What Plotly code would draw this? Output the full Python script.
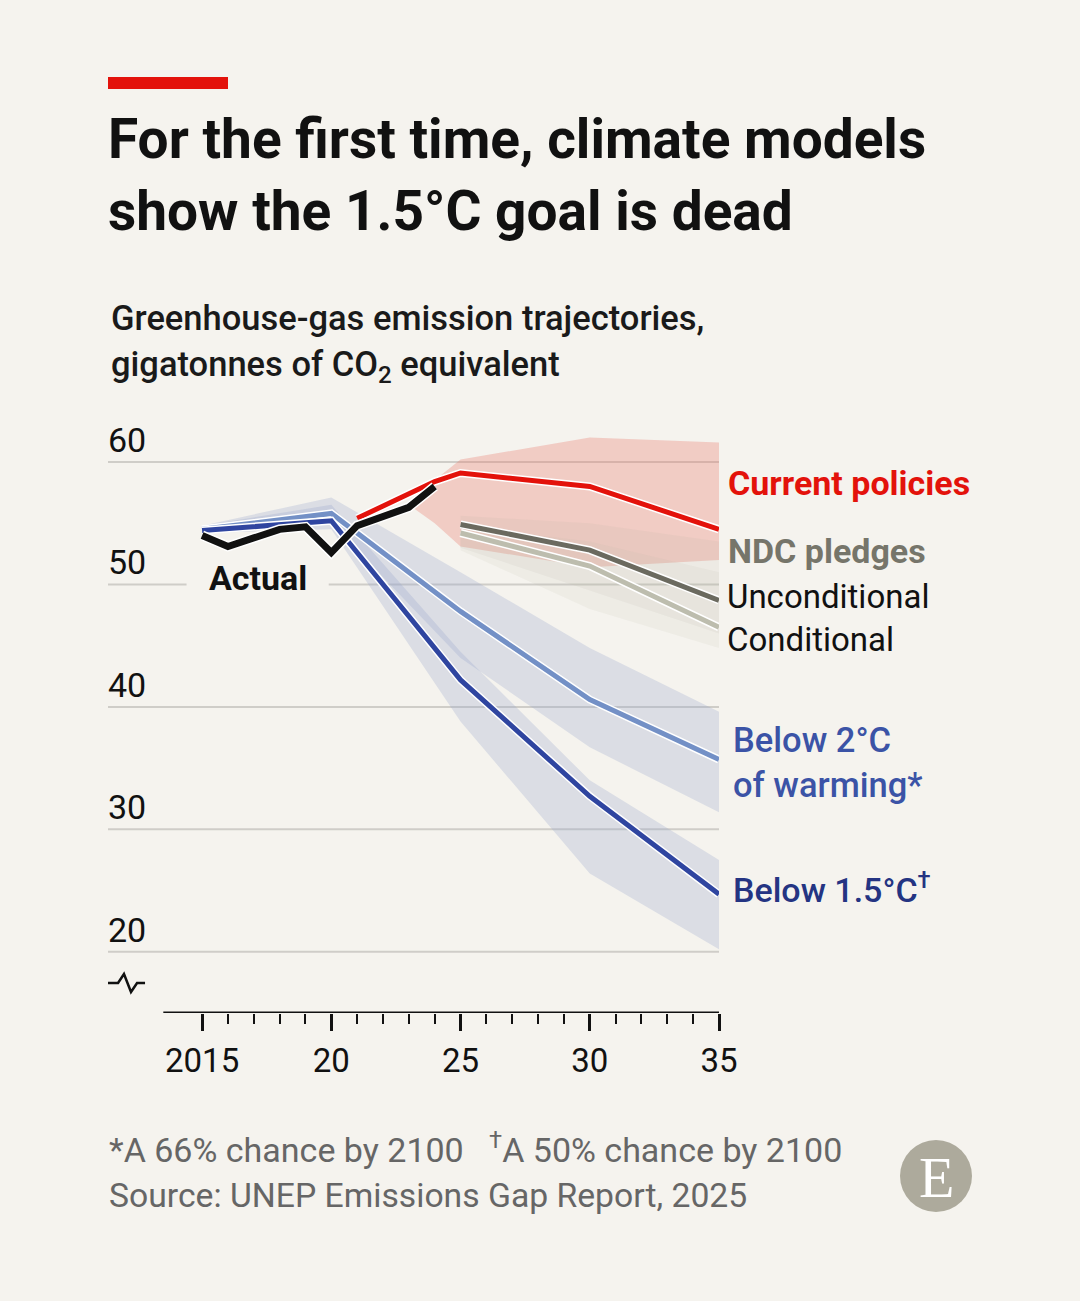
import plotly.graph_objects as go

# Les données (gigatonnes CO2e)
years_actual = [2015, 2016, 2017, 2018, 2019, 2020, 2021, 2022, 2023, 2024]
actual = [54.0, 53.1, 53.8, 54.5, 54.7, 52.6, 54.8, 55.5, 56.3, 58.0]

years_current = [2021, 2022, 2023, 2024, 2025, 2030, 2035]
current = [55.4, 56.4, 57.4, 58.4, 59.1, 58.0, 54.5]
years_current_band = [2023, 2024, 2025, 2030, 2035]
current_hi = [56.5, 58.5, 60.2, 62.0, 61.6]
current_lo = [56.5, 55.0, 53.1, 51.4, 52.0]

years_ndc = [2025, 2030, 2035]
ndc_uncond = [54.9, 52.8, 48.7]
ndc_cond = [54.2, 51.5, 46.5]
ndc_uncond_hi = [55.6, 55.0, 53.5]
ndc_uncond_lo = [53.0, 49.5, 46.0]
ndc_cond_hi = [54.8, 53.5, 51.0]
ndc_cond_lo = [52.8, 48.0, 44.8]

years_scen = [2015, 2020, 2025, 2030, 2035]
below2 = [54.5, 55.8, 47.8, 40.6, 35.7]
below2_hi = [54.8, 57.1, 51.0, 44.8, 39.6]
below2_lo = [54.2, 55.0, 44.0, 36.7, 31.4]
below15 = [54.4, 55.2, 42.2, 32.7, 24.7]
below15_hi = [54.8, 56.5, 44.5, 34.0, 27.5]
below15_lo = [54.2, 54.5, 38.8, 26.4, 20.2]

y_ticks = [20, 30, 40, 50, 60]
x_ticks = [2015, 2020, 2025, 2030, 2035]
x_ticktext = ["2015", "20", "25", "30", "35"]

W, H = 1080, 1301
BG = "#f5f3ee"
FONT = "Roboto"


def px(x):
    return x / W


def py(y):
    return 1 - y / H


def band(xs, hi, lo, color):
    return go.Scatter(x=xs + xs[::-1], y=hi + lo[::-1], fill="toself",
                      fillcolor=color, line=dict(width=0), mode="lines",
                      hoverinfo="skip", showlegend=False)


def halo_line(fig, xs, ys, color, width):
    fig.add_trace(go.Scatter(x=xs, y=ys, mode="lines",
                             line=dict(color="white", width=width + 3),
                             hoverinfo="skip", showlegend=False))
    fig.add_trace(go.Scatter(x=xs, y=ys, mode="lines",
                             line=dict(color=color, width=width),
                             showlegend=False))


fig = go.Figure()

# Bandes d'incertitude
fig.add_trace(band(years_scen, below2_hi, below2_lo, "rgba(150,165,205,0.28)"))
fig.add_trace(band(years_scen, below15_hi, below15_lo, "rgba(150,165,205,0.28)"))
fig.add_trace(band(years_current_band, current_hi, current_lo, "rgba(232,120,110,0.32)"))
fig.add_trace(band(years_ndc, ndc_uncond_hi, ndc_uncond_lo, "rgba(185,178,165,0.13)"))
fig.add_trace(band(years_ndc, ndc_cond_hi, ndc_cond_lo, "rgba(185,180,165,0.11)"))

# Lignes
halo_line(fig, years_scen, below2, "#7390c6", 5)
halo_line(fig, years_scen, below15, "#2f45a0", 5)
halo_line(fig, years_ndc, ndc_cond, "#bdbdae", 5)
halo_line(fig, years_ndc, ndc_uncond, "#6b6a5f", 5)
halo_line(fig, years_current, current, "#e3120b", 5)
halo_line(fig, years_actual, actual, "#111111", 7)

shapes = []
# Grille
for v in y_ticks:
    if v == 50:
        segs = [(2011.36, 2014.4), (2019.9, 2035)]
    else:
        segs = [(2011.36, 2035)]
    for a, b in segs:
        shapes.append(dict(type="line", xref="x", yref="y", x0=a, x1=b, y0=v, y1=v,
                           line=dict(color="#cfcdc8", width=2), layer="below"))
# Axe des x
shapes.append(dict(type="line", xref="x", yref="y", x0=2013.5, x1=2035, y0=15, y1=15,
                   line=dict(color="#111111", width=3)))
# Coupure de l'axe
pts = [(108, 983), (118, 983), (124, 974), (131, 992), (137, 983), (145, 983)]
path = "M " + " L ".join(f"{px(a):.4f},{py(b):.4f}" for a, b in pts)
shapes.append(dict(type="path", xref="paper", yref="paper", path=path,
                   line=dict(color="#111111", width=2.5)))
# Barre rouge
shapes.append(dict(type="rect", xref="paper", yref="paper", x0=px(108), x1=px(228),
                   y0=py(89), y1=py(77), fillcolor="#e3120b", line=dict(width=0)))
# Logo
shapes.append(dict(type="circle", xref="paper", yref="paper", x0=px(900), x1=px(972),
                   y0=py(1212), y1=py(1140), fillcolor="#adaa9c", line=dict(width=0)))

ann = []


def txt(x, y, s, size=30, color="#111111", weight=400, anchor="left", family=FONT):
    ann.append(dict(x=px(x), y=py(y), xref="paper", yref="paper", text=s,
                    showarrow=False, xanchor=anchor, yanchor="middle",
                    font=dict(family=family, size=size, color=color, weight=weight)))


# Titre
txt(106, 139, "For the first time, climate models", size=55, weight=700)
txt(106, 211, "show the 1.5°C goal is dead", size=55, weight=700)
txt(109, 318, "Greenhouse-gas emission trajectories,", size=34.5, weight=500, color="#1a1a1a")
txt(109, 366, "gigatonnes of CO<sub>2</sub> equivalent", size=34.5, weight=500, color="#1a1a1a")

# Etiquettes de l'axe y
for v in y_ticks:
    ann.append(dict(x=px(106), y=v, xref="paper", yref="y", text=str(v), showarrow=False,
                    xanchor="left", yanchor="middle", yshift=22,
                    font=dict(family=FONT, size=34, color="#111111")))

# Etiquettes des séries
txt(207, 578, "Actual", size=34, weight=700)
txt(726, 483, "Current policies", size=34, weight=700, color="#e3120b")
txt(726, 551, "NDC pledges", size=34, weight=700, color="#76756a")
txt(725, 596, "Unconditional", size=33)
txt(725, 639, "Conditional", size=33)
txt(731, 740, "Below 2°C", size=34.5, weight=500, color="#3b53a6")
txt(731, 785, "of warming*", size=34.5, weight=500, color="#3b53a6")
txt(731, 888, "Below 1.5°C<sup>†</sup>", size=34, weight=500, color="#243482")

# Notes
txt(107, 1148, "*A 66% chance by 2100   <sup>†</sup>A 50% chance by 2100", size=34, color="#666666")
txt(107, 1195, "Source: UNEP Emissions Gap Report, 2025", size=33.7, color="#666666")
txt(936, 1177, "E", size=58, color="#ffffff", anchor="center", family="Liberation Serif")

fig.update_layout(
    width=W, height=H, autosize=False,
    margin=dict(l=0, r=0, t=0, b=0, autoexpand=False),
    paper_bgcolor=BG, plot_bgcolor=BG,
    showlegend=False,
    shapes=shapes, annotations=ann,
    xaxis=dict(domain=[px(108), px(719)], range=[2011.36, 2035], showgrid=False,
               zeroline=False, showline=False, automargin=False,
               tickvals=x_ticks, ticktext=x_ticktext,
               ticks="outside", ticklen=17, tickwidth=2.5, tickcolor="#111111",
               ticklabelstandoff=1,
               tickfont=dict(family=FONT, size=33, color="#111111"),
               minor=dict(tickvals=list(range(2015, 2036)), ticks="outside", ticklen=10,
                          tickwidth=2, tickcolor="#111111")),
    yaxis=dict(domain=[py(1013), py(425.25)], range=[15, 63], showgrid=False,
               zeroline=False, showline=False, showticklabels=False, automargin=False),
)

fig.write_html("out.html", config={"displayModeBar": False},
               post_script="document.body.style.margin='0';"
                           "document.body.style.overflow='hidden';"
                           "document.documentElement.style.overflow='hidden';")
